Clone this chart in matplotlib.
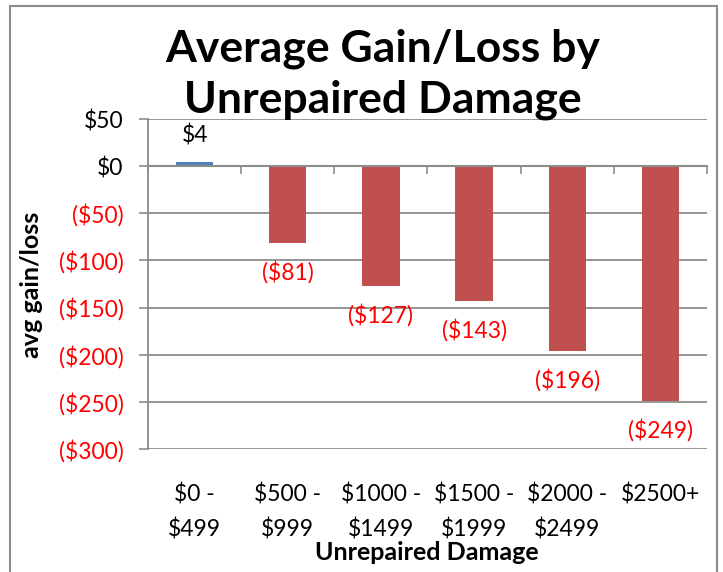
import matplotlib.pyplot as plt
from matplotlib.patches import Rectangle
import numpy as np

plt.rcParams['font.family'] = ['Lato', 'DejaVu Sans']

# data
categories = ['$0 -\n$499', '$500 -\n$999', '$1000 -\n$1499', '$1500 -\n$1999', '$2000 -\n$2499', '$2500+']
values = [4, -81, -127, -143, -196, -249]
value_labels = ['$4', '($81)', '($127)', '($143)', '($196)', '($249)']
yticks = [50, 0, -50, -100, -150, -200, -250, -300]
ytick_labels = ['$50', '$0', '($50)', '($100)', '($150)', '($200)', '($250)', '($300)']

gray = '#8c8c8c'
fig = plt.figure(figsize=(7.23, 5.72), dpi=100)
ax = fig.add_axes([148/723, 1-449/572, (707-148)/723, (449-119)/572])

x = np.arange(len(values))
colors = ['#4F81BD' if v >= 0 else '#C0504D' for v in values]
ax.bar(x, values, width=0.4, color=colors, zorder=3)

for xi, v, lab in zip(x, values, value_labels):
    off = 19 if v >= 0 else -21
    ax.annotate(lab, (xi, v), xytext=(0, off), textcoords='offset points',
                ha='center', va='center', fontsize=16.5,
                color='black' if v >= 0 else 'red')

ax.set_xlim(-0.5, len(values) - 0.5)
ax.set_ylim(-300, 50)
ax.set_yticks(yticks)
ax.set_yticklabels(ytick_labels)
for t, v in zip(ax.get_yticklabels(), yticks):
    t.set_color('black' if v >= 0 else 'red')
ax.tick_params(axis='y', labelsize=16.5, length=6.5, width=1.2, color=gray, pad=11)
ax.yaxis.grid(True, color=gray, linewidth=1.3, zorder=0)
ax.set_axisbelow(True)

# category axis sits at zero, ticks between categories
ax.spines['bottom'].set_position(('data', 0))
ax.spines['bottom'].set_color(gray)
ax.spines['bottom'].set_linewidth(1.5)
ax.spines['bottom'].set_zorder(4)
ax.set_xticks(np.arange(len(values) + 1) - 0.5)
ax.set_xticklabels([])
ax.tick_params(axis='x', length=6, width=1.2, color=gray)
ax.spines['left'].set_color(gray)
ax.spines['left'].set_linewidth(1.3)
ax.spines['top'].set_visible(False)
ax.spines['right'].set_visible(False)

# category labels below the plot
sec = ax.secondary_xaxis('bottom')
sec.set_xticks(x)
sec.set_xticklabels(categories, fontsize=16.5, linespacing=1.7)
sec.tick_params(length=0, pad=25)
sec.spines['bottom'].set_visible(False)

ax.set_ylabel('avg gain/loss', fontsize=18, fontweight='bold')
ax.yaxis.set_label_coords(-0.188, 0.497)
fig.text(427/723, 1-553/572, 'Unrepaired Damage', ha='center', va='center',
         fontsize=18, fontweight='bold')

fig.text(383/723, 1-112/572, 'Average Gain/Loss by\nUnrepaired Damage', ha='center',
         va='baseline', fontsize=32, fontweight='bold', linespacing=1.3)

fig.patches.append(Rectangle((10/723, -0.05), 707/723, 1.05 - 6/572, transform=fig.transFigure,
                             fill=False, edgecolor=gray, linewidth=1.5))

plt.savefig('out.png', dpi=100)
